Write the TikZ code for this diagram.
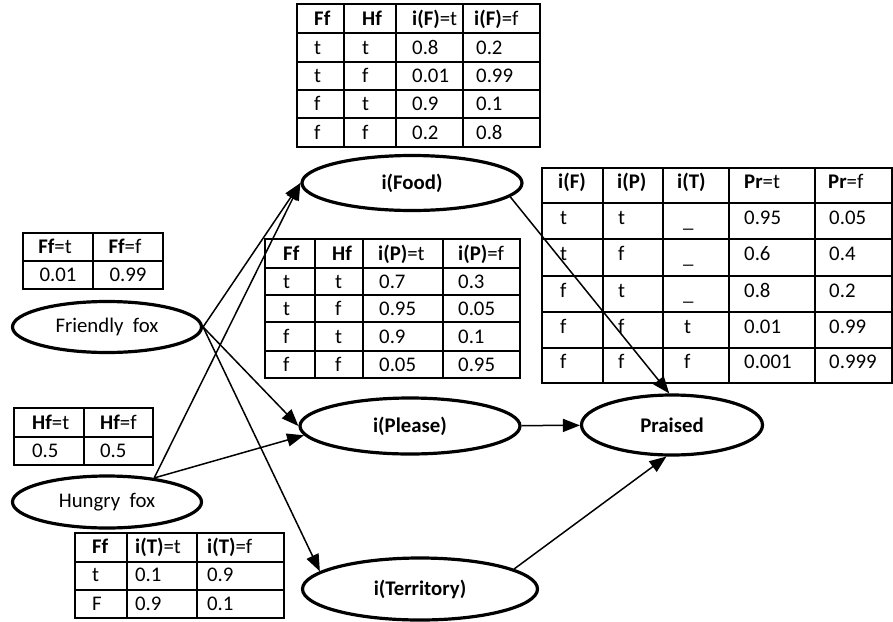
\documentclass[tikz,border=0pt]{standalone}
\usepackage{fontspec}
\setmainfont{Carlito}
\usetikzlibrary{shapes.geometric,arrows.meta}
\begin{document}
\begin{tikzpicture}[x=1pt,y=-1pt,
  every node/.style={font=\fontsize{20.8}{24}\selectfont},
  bn/.style={ellipse, draw, line width=3.2pt, inner sep=0pt, font=\fontsize{20.8}{24}\selectfont\bfseries},
  rn/.style={ellipse, draw, line width=3.2pt, inner sep=0pt, font=\fontsize{20.8}{24}\selectfont},
  grid/.style={line width=1.1pt},
  cl/.style={anchor=base west, inner sep=0pt},
  cc/.style={anchor=base, inner sep=0pt},
  arr/.style={-{Triangle[length=17pt,width=13pt]}, line width=1.5pt}
]
\fill[white] (0,0) rectangle (893,621);
\useasboundingbox (0,0) rectangle (893,621);

% ---------- table i(Food)
\draw[grid] (297,4) rectangle (540,147);
\foreach \x in {344,396,463} \draw[grid] (\x,4) -- (\x,147);
\foreach \y in {33,62,90,118} \draw[grid] (297,\y) -- (540,\y);
\foreach \x/\t [count=\c] in {314/\textbf{Ff},362/\textbf{Hf},412/{\textbf{i(F)}=t},474/{\textbf{i(F)}=f}} \node[cl] (F0\c) at (\x,25) {\t};
\foreach \x/\t [count=\c] in {314/t,362/t,412/0.8,476/0.2} \node[cl] (F1\c) at (\x,54) {\t};
\foreach \x/\t [count=\c] in {314/t,362/f,412/0.01,476/0.99} \node[cl] (F2\c) at (\x,82.5) {\t};
\foreach \x/\t [count=\c] in {314/f,362/t,412/0.9,476/0.1} \node[cl] (F3\c) at (\x,110.5) {\t};
\foreach \x/\t [count=\c] in {314/f,362/f,412/0.2,476/0.8} \node[cl] (F4\c) at (\x,139) {\t};

% ---------- table Praised
\draw[grid] (542,168) rectangle (892,383);
\foreach \x in {603,663,729,815} \draw[grid] (\x,168) -- (\x,383);
\foreach \y in {203,239,276,312,348} \draw[grid] (542,\y) -- (892,\y);
\foreach \x/\t [count=\c] in {558/\textbf{i(F)},617/\textbf{i(P)},677/\textbf{i(T)},744/{\textbf{Pr}=t},828/{\textbf{Pr}=f}} \node[cl] (R0\c) at (\x,188.5) {\t};
\foreach \x/\t [count=\c] in {560/t,618/t,744/0.95,829/0.05} \node[cl] (R1\c) at (\x,224) {\t};
\foreach \x/\t [count=\c] in {560/t,618/f,744/0.6,829/0.4} \node[cl] (R2\c) at (\x,260.5) {\t};
\foreach \x/\t [count=\c] in {560/f,618/t,744/0.8,829/0.2} \node[cl] (R3\c) at (\x,297) {\t};
\foreach \x/\t [count=\c] in {560/f,618/f,684/t,744/0.01,829/0.99} \node[cl] (R4\c) at (\x,333) {\t};
\foreach \x/\t [count=\c] in {560/f,618/f,684/f,744/0.001,829/0.999} \node[cl] (R5\c) at (\x,368.5) {\t};
\node[cl] (U1) at (683,227) {\_};
\node[cl] (U2) at (683,263.5) {\_};
\node[cl] (U3) at (683,300) {\_};

% ---------- table i(Please)
\draw[grid] (265,239) rectangle (520,378);
\foreach \x in {315,363,443} \draw[grid] (\x,239) -- (\x,378);
\foreach \y in {268,295,322,351} \draw[grid] (265,\y) -- (520,\y);
\foreach \x/\t [count=\c] in {283/\textbf{Ff},332/\textbf{Hf},378/{\textbf{i(P)}=t},458/{\textbf{i(P)}=f}} \node[cl] (P0\c) at (\x,260) {\t};
\foreach \x/\t [count=\c] in {283/t,335/t,379/0.7,458/0.3} \node[cl] (P1\c) at (\x,288) {\t};
\foreach \x/\t [count=\c] in {283/t,335/f,379/0.95,458/0.05} \node[cl] (P2\c) at (\x,315) {\t};
\foreach \x/\t [count=\c] in {283/f,335/t,379/0.9,458/0.1} \node[cl] (P3\c) at (\x,343) {\t};
\foreach \x/\t [count=\c] in {283/f,335/f,379/0.05,458/0.95} \node[cl] (P4\c) at (\x,371) {\t};

% ---------- table Ff prior
\draw[grid] (23,233) rectangle (163,289);
\draw[grid] (93,233) -- (93,289);
\draw[grid] (23,261) -- (163,261);
\node[cc] (A01) at (55,253) {\textbf{Ff}=t};
\node[cc] (A02) at (125,253) {\textbf{Ff}=f};
\node[cc] (A11) at (58,281) {0.01};
\node[cc] (A12) at (128,281) {0.99};

% ---------- table Hf prior
\draw[grid] (14,408) rectangle (153,465);
\draw[grid] (84,408) -- (84,465);
\draw[grid] (14,437) -- (153,437);
\node[cl] (B01) at (32,429) {\textbf{Hf}=t};
\node[cl] (B02) at (100,429) {\textbf{Hf}=f};
\node[cl] (B11) at (32,457) {0.5};
\node[cl] (B12) at (100,457) {0.5};

% ---------- table i(Territory)
\draw[grid] (75,533) rectangle (284,618);
\foreach \x in {127,197} \draw[grid] (\x,533) -- (\x,618);
\foreach \y in {562,590} \draw[grid] (75,\y) -- (284,\y);
\foreach \x/\t [count=\c] in {92/\textbf{Ff},135/{\textbf{i(T)}=t},207/{\textbf{i(T)}=f}} \node[cl] (T0\c) at (\x,553) {\t};
\foreach \x/\t [count=\c] in {92/t,135/0.1,207/0.9} \node[cl] (T1\c) at (\x,581.5) {\t};
\foreach \x/\t [count=\c] in {92/F,135/0.9,207/0.1} \node[cl] (T2\c) at (\x,610) {\t};

% ---------- variable nodes
\node[bn, minimum width=220pt, minimum height=55pt] (food) at (412,183) {i(Food)};
\node[bn, minimum width=220pt, minimum height=56pt] (please) at (410,426) {i(Please)};
\node[bn, minimum width=181pt, minimum height=60pt] (praised) at (672,425) {Praised};
\node[bn, minimum width=235pt, minimum height=62pt] (territory) at (420,589) {i(Territory)};
\node[rn, minimum width=189pt, minimum height=51pt] (ff) at (107,327) {Friendly~~fox};
\node[rn, minimum width=189pt, minimum height=52pt] (hf) at (107,502) {Hungry~~fox};

% ---------- connectors
\draw[arr] (ff.east) -- (food.west);
\draw[arr] (hf.27) -- (food.west);
\draw[arr] (ff.east) -- (please.west);
\draw[arr] (hf.27) -- (please.185);
\draw[arr] (ff.east) -- (territory.170);
\draw[arr] (food.-8) -- (praised.95);
\draw[arr] (please) -- (praised);
\draw[arr] (territory.12) -- (praised.260);
\end{tikzpicture}
\end{document}
